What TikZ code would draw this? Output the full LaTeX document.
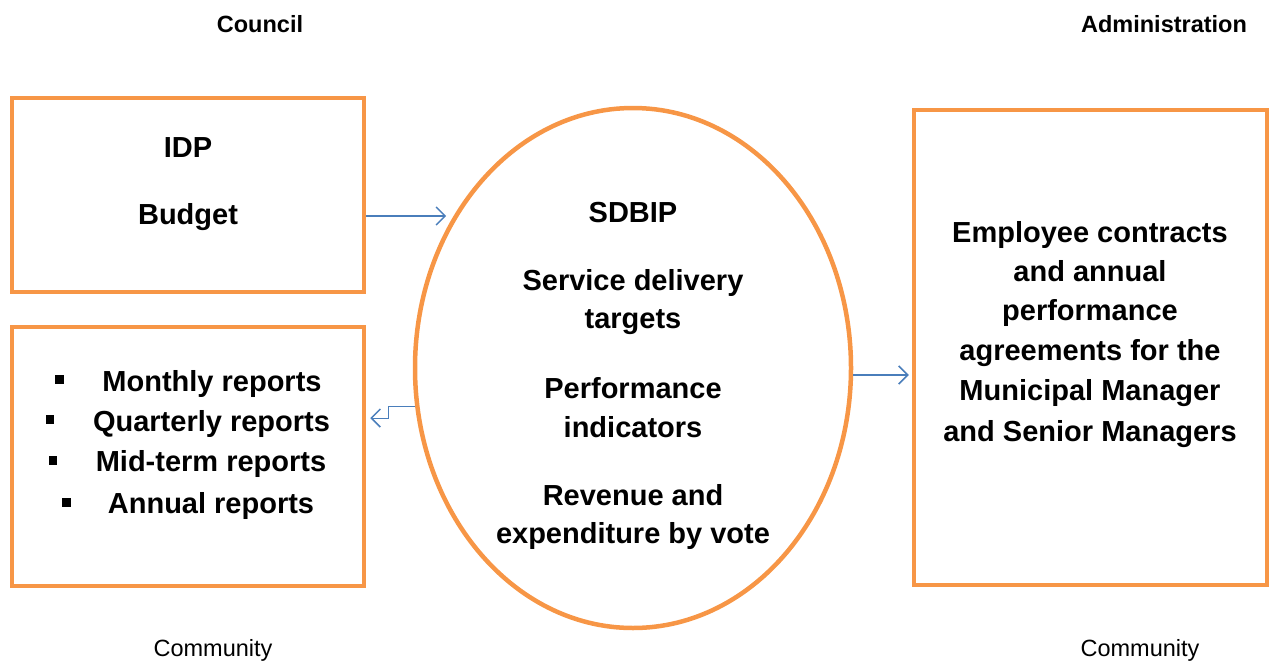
\documentclass[tikz,border=0pt]{standalone}
\usepackage{fontspec}
\setmainfont{Liberation Sans}
\usetikzlibrary{shapes.geometric,arrows.meta}
\definecolor{frameor}{HTML}{F79646}
\definecolor{arrblue}{HTML}{4A7EBB}
\tikzset{
  box/.style={draw=frameor, line width=4.5pt, rectangle, inner sep=0pt},
  oval/.style={draw=frameor, line width=4.5pt, ellipse, inner sep=0pt},
  big/.style={font=\fontsize{29}{34}\selectfont\bfseries, anchor=base, inner sep=0pt},
  head/.style={font=\fontsize{23.5}{28}\selectfont\bfseries, anchor=base, inner sep=0pt},
  foot/.style={font=\fontsize{23.5}{28}\selectfont, anchor=base, inner sep=0pt},
  arr/.style={draw=arrblue, line width=1.5pt, -{Straight Barb[length=9pt,width=18pt,line width=1.5pt]}},
  sq/.style={fill=black, minimum size=8.5pt, inner sep=0pt, rectangle}
}
\begin{document}
\begin{tikzpicture}[x=1pt,y=-1pt]
\useasboundingbox (0,0) rectangle (1269,662);
% headings
\node[head] (council) at (260,32) {Council};
\node[head] (admin) at (1164,32) {Administration};
\node[foot] (comm1) at (213,656) {Community};
\node[foot] (comm2) at (1140,656) {Community};
% boxes
\node[box, minimum width=352pt, minimum height=194pt] (idp) at (188,195) {};
\node[box, minimum width=352pt, minimum height=259pt] (rep) at (188,456.5) {};
\node[box, minimum width=353pt, minimum height=475pt] (rbox) at (1090.5,347.5) {};
\node[oval, minimum width=436pt, minimum height=520pt] (sd) at (633,368) {};
% IDP box text
\node[big] (t1) at (188,157) {IDP};
\node[big] (t2) at (188,224) {Budget};
% reports
\node[big] (r1) at (212,391) {Monthly reports};
\node[big] (r2) at (211.5,431) {Quarterly reports};
\node[big] (r3) at (211,471) {Mid-term reports};
\node[big] (r4) at (211,513) {Annual reports};
\node[sq] (b1) at (59.5,379.5) {};
\node[sq] (b2) at (50,419.5) {};
\node[sq] (b3) at (53,460.5) {};
\node[sq] (b4) at (66.5,502.5) {};
% ellipse text
\node[big] (e1) at (633,222) {SDBIP};
\node[big] (e2) at (633,290) {Service delivery};
\node[big] (e3) at (633,328) {targets};
\node[big] (e4) at (633,398) {Performance};
\node[big] (e5) at (633,437) {indicators};
\node[big] (e6) at (633,505) {Revenue and};
\node[big] (e7) at (633,543) {expenditure by vote};
% right box text
\node[big] (g1) at (1090,242) {Employee contracts};
\node[big] (g2) at (1090,281) {and annual};
\node[big] (g3) at (1090,320) {performance};
\node[big] (g4) at (1090,360) {agreements for the};
\node[big] (g5) at (1090,400) {Municipal Manager};
\node[big] (g6) at (1090,441) {and Senior Managers};
% connectors
\coordinate (a1) at ([yshift=-21pt]idp.east);
\draw[arr] (a1) -- ([xshift=-9pt]sd.139.35 |- a1);
\coordinate (a2) at ([yshift=-7pt]sd.east);
\draw[arr, shorten >=3pt] (a2) -- (a2 -| rbox.west);
\draw[arr, line width=1pt] (sd.190.78) -- ++(-27,0) |- ([xshift=4pt,yshift=38.5pt]rep.east);
\end{tikzpicture}
\end{document}
